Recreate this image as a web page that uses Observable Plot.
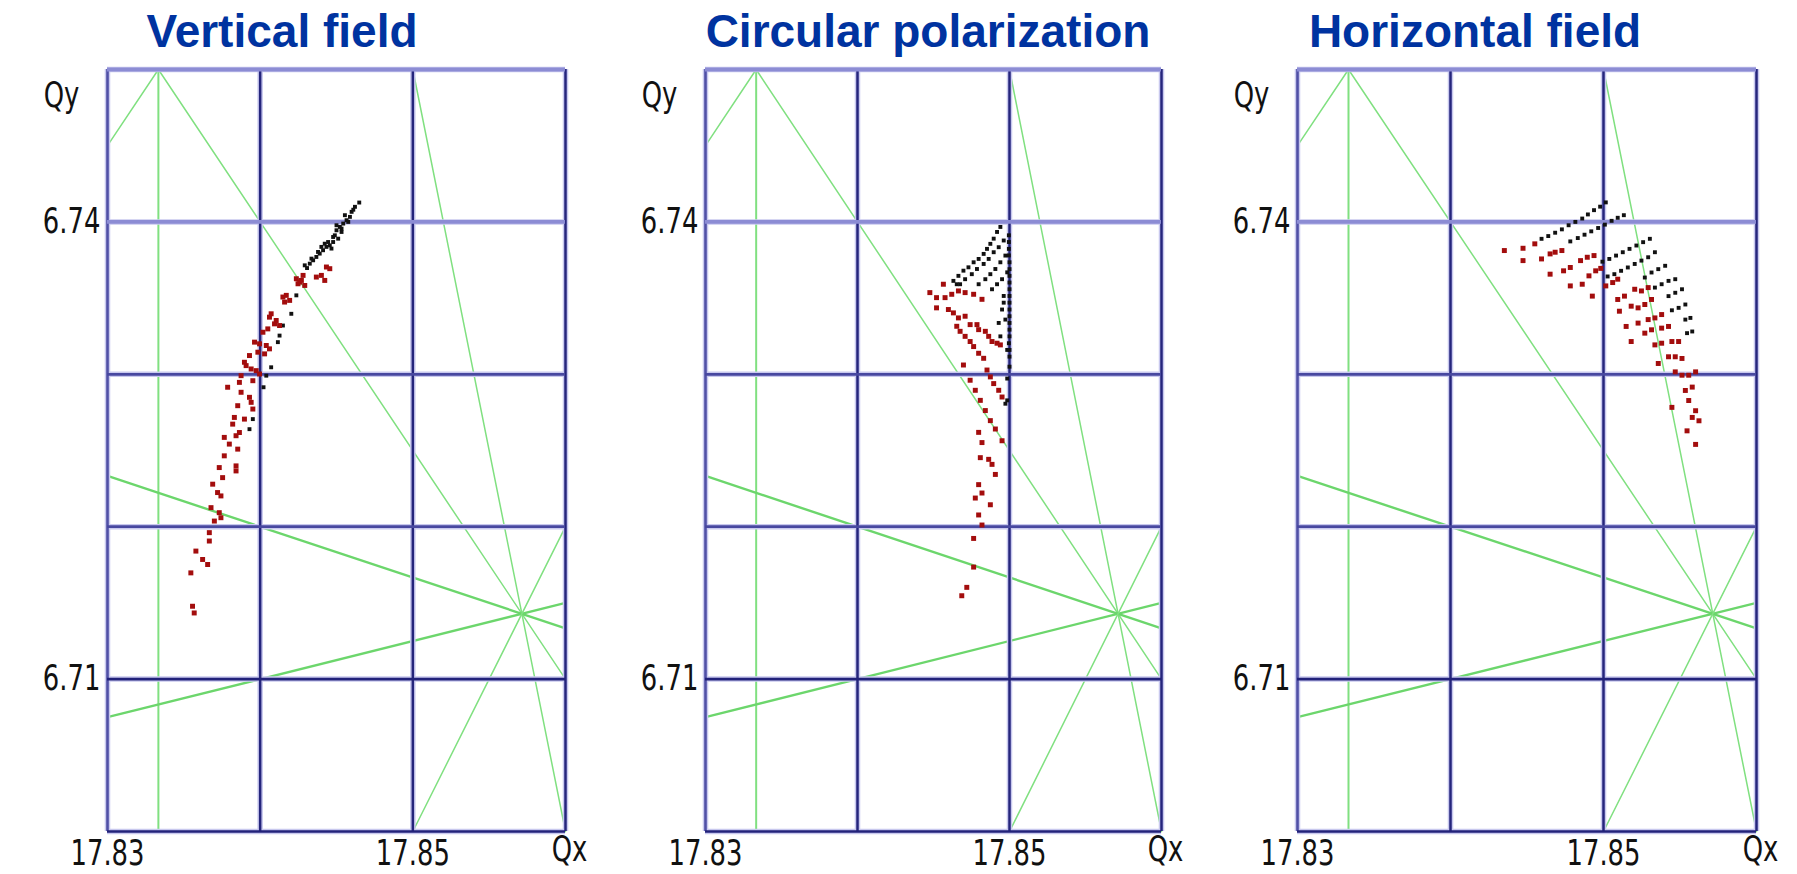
<!DOCTYPE html>
<html><head><meta charset="utf-8">
<script src="https://cdn.jsdelivr.net/npm/d3@7"></script>
<script src="https://cdn.jsdelivr.net/npm/@observablehq/plot@0.6"></script>
<style>
body{margin:0;background:#fff;}
#wrap{position:relative;width:1797px;height:874px;overflow:hidden;background:#fff;}
.title{position:absolute;top:8px;font:bold 46px "Liberation Sans",Arial,sans-serif;color:#0033a0;white-space:nowrap;transform:translateX(-50%);line-height:46px;}
.panel{position:absolute;top:60px;}
</style></head><body><div id="wrap"></div>
<script>
// ---- text / ticks ----
const panelTitles = ["Vertical field", "Circular polarization", "Horizontal field"];
const xTickLabels = [17.83, 17.85];
const yTickLabels = [6.71, 6.74];
const xGrid = [17.83, 17.84, 17.85, 17.86];
const yGrid = [6.70, 6.71, 6.72, 6.73, 6.74, 6.75];
const xDomain = [17.83, 17.86];
const yDomain = [6.70, 6.75];
const axisNames = ["Qx", "Qy"];

// ---- resonance lines  a*Qx + b*Qy = n ----
const resA = [6, 3, 3, 5, 1, -1, 2];
const resB = [0, -2, 2, 1, 3, 4, -1];
const resN = [107, 40, 67, 96, 38, 9, 29];

// ---- tune footprints [Qx, Qy] ----
const vBlack = [[17.84649,6.74127],[17.84621,6.74099],[17.84599,6.74066],[17.84588,6.74033],[17.84566,6.74011],[17.84544,6.73989],[17.84522,6.73967],[17.845,6.73945],[17.84489,6.73912],[17.84511,6.7389],[17.84478,6.73868],[17.84456,6.73846],[17.84434,6.73836],[17.84467,6.73825],[17.84412,6.73814],[17.8439,6.73792],[17.84368,6.7377],[17.84347,6.73748],[17.84325,6.73726],[17.84307,6.73697],[17.845,6.73978],[17.84533,6.73934],[17.84555,6.74044],[17.84445,6.73868],[17.84401,6.73836],[17.8461,6.7408],[17.84577,6.74],[17.84533,6.73956],[17.84478,6.73901],[17.84423,6.73857],[17.84379,6.73803],[17.84336,6.73759],[17.84292,6.73715],
[17.84237,6.73518],[17.84204,6.73397],[17.84149,6.7332],[17.84127,6.73254],[17.84116,6.73211],[17.84072,6.73046],[17.8404,6.72991],[17.84022,6.72915],[17.83952,6.72706],[17.8393,6.7264]];
const vRed = [[17.84434,6.73704],[17.84456,6.73693],[17.84401,6.73649],[17.84423,6.73616],[17.84368,6.73638],[17.84281,6.73649],[17.8427,6.73616],[17.84248,6.73594],[17.84292,6.73583],[17.84237,6.73627],[17.84259,6.73605],[17.84171,6.73518],[17.84149,6.73507],[17.84193,6.73485],[17.8416,6.73474],[17.84072,6.73397],[17.84061,6.73375],[17.84105,6.73353],[17.84094,6.73331],[17.84127,6.7332],[17.8405,6.73298],[17.84018,6.73276],[17.83963,6.73211],[17.83996,6.732],[17.8404,6.73189],[17.84061,6.73167],[17.83985,6.73145],[17.84029,6.73134],[17.8393,6.73123],[17.83897,6.73079],[17.83908,6.73057],[17.83941,6.73035],[17.83974,6.73024],[17.83996,6.73002],[17.83952,6.72958],[17.83875,6.72991],[17.83864,6.72947],[17.83787,6.72915],[17.83875,6.72882],[17.8393,6.72849],[17.83941,6.72816],[17.83853,6.72794],[17.83952,6.72772],[17.83831,6.72717],[17.83897,6.72706],[17.8382,6.72673],[17.83864,6.72618],[17.83842,6.72597],[17.83765,6.72586],[17.83798,6.72542],[17.83853,6.72509],[17.83765,6.72465],[17.83842,6.72399],[17.83842,6.72366],[17.83732,6.72388],[17.83754,6.72322],[17.83689,6.72279],[17.83721,6.72224],[17.83743,6.72202],[17.83678,6.72125],[17.83732,6.72092],[17.83743,6.72059],[17.837,6.72037],[17.83667,6.71961],[17.83667,6.71906],[17.83579,6.7184],[17.83623,6.71785],[17.83656,6.71752],[17.83546,6.71697],[17.83557,6.71478],[17.83568,6.71434]];

const cBlack = [[17.8494,6.73967],[17.84918,6.73934],[17.84896,6.7389],[17.84874,6.73856],[17.84852,6.73823],[17.8483,6.7379],[17.84797,6.73757],[17.84764,6.73735],[17.8473,6.73702],[17.84697,6.7368],[17.84664,6.73646],[17.84631,6.73613],[17.84653,6.73591],
[17.84962,6.73878],[17.84929,6.73834],[17.84896,6.73801],[17.84863,6.73757],[17.8483,6.73724],[17.84786,6.73691],[17.84752,6.73657],[17.84708,6.73624],[17.84675,6.73591],
[17.84973,6.73779],[17.8494,6.73735],[17.84907,6.73691],[17.84874,6.73657],[17.84841,6.73624],[17.84797,6.73591],
[17.84985,6.73669],[17.84951,6.73624],[17.84918,6.73591],[17.84885,6.73558],
[17.84996,6.73912],[17.84996,6.73868],[17.84996,6.73823],[17.84996,6.7378],[17.85,6.73735],[17.85,6.7369],[17.85,6.73646],[17.85,6.73602],[17.85,6.73558],[17.85,6.73514],[17.85,6.7347],[17.85,6.73425],[17.85,6.73381],[17.85,6.73337],[17.85,6.73293],[17.85,6.73249],[17.84996,6.73204],[17.85,6.7316],[17.85,6.73116],[17.85,6.7305],[17.84985,6.72972],[17.84985,6.72829],[17.84973,6.72807],
[17.84962,6.73514],[17.84951,6.73425],[17.84929,6.73337],[17.84962,6.7347],[17.84973,6.73359],[17.8494,6.73249],[17.84985,6.7316]];
const cRed = [[17.84565,6.73591],[17.84476,6.73536],[17.8452,6.73503],[17.84576,6.73503],[17.8462,6.73525],[17.84664,6.73547],[17.84708,6.73536],[17.84764,6.73525],[17.84819,6.73492],[17.8452,6.73436],[17.84598,6.73425],[17.84631,6.73403],[17.84664,6.7337],[17.84708,6.73381],[17.84741,6.73326],[17.84786,6.73326],[17.84797,6.73293],[17.84841,6.73282],[17.84863,6.73249],[17.84885,6.73215],[17.84918,6.73204],[17.8494,6.73193],[17.84653,6.73315],[17.84675,6.73282],[17.84708,6.73249],[17.84741,6.73215],[17.84764,6.73182],[17.84797,6.73138],[17.8483,6.73105],[17.84852,6.73028],[17.84874,6.72983],[17.84896,6.72939],[17.84929,6.72895],[17.84951,6.72851],[17.84697,6.73061],[17.84741,6.72961],[17.84775,6.72895],[17.84808,6.72829],[17.84841,6.72762],[17.84874,6.72696],[17.84907,6.72641],[17.84951,6.72564],[17.84797,6.72619],[17.84819,6.72552],[17.84808,6.72453],[17.84863,6.72442],[17.84885,6.72409],[17.84907,6.72343],[17.84797,6.72276],[17.84819,6.72221],[17.84775,6.72188],[17.84874,6.72144],[17.84797,6.72077],[17.84819,6.72011],[17.84764,6.71923],[17.84764,6.71735],[17.84719,6.71602],[17.84686,6.71547]];

const hBlack = [[17.85015,6.74128],[17.84978,6.741],[17.84938,6.74077],[17.84898,6.74049],[17.84861,6.74022],[17.84816,6.74],[17.84772,6.73978],[17.84728,6.73951],[17.84684,6.73929],[17.84639,6.73907],[17.84595,6.73889],
[17.85133,6.74044],[17.85093,6.74027],[17.85053,6.74007],[17.85009,6.73982],[17.84965,6.7396],[17.8492,6.73938],[17.84876,6.73916],[17.84832,6.73894],[17.84783,6.73872],
[17.85303,6.73889],[17.85259,6.73867],[17.85215,6.73845],[17.8517,6.73823],[17.85126,6.73801],[17.85082,6.73779],[17.85038,6.73757],[17.84993,6.73739],
[17.85336,6.73801],[17.85292,6.73768],[17.85248,6.73746],[17.85204,6.73724],[17.85159,6.73701],[17.85115,6.73679],[17.85071,6.73657],[17.85027,6.73642],
[17.85403,6.73712],[17.85358,6.7369],[17.85314,6.73668],[17.8527,6.73635],
[17.85469,6.73624],[17.85425,6.73613],[17.8538,6.73591],[17.85336,6.73569],
[17.85513,6.73558],[17.85469,6.73535],[17.85425,6.73513],
[17.85535,6.73458],[17.85491,6.73436],[17.85447,6.7342],
[17.85568,6.7337],[17.85535,6.73359],
[17.8558,6.73281],[17.85546,6.7327]];
const hRed = [[17.84551,6.73856],[17.84474,6.73827],[17.84352,6.73812],[17.84728,6.73812],[17.84684,6.73801],[17.84651,6.7379],[17.84595,6.73757],[17.84474,6.73746],[17.84938,6.73779],[17.84894,6.73768],[17.8485,6.73746],[17.84783,6.73701],[17.84739,6.73679],[17.84651,6.73657],[17.84982,6.73695],[17.84949,6.73679],[17.84905,6.73646],[17.84861,6.73591],[17.84783,6.7358],[17.85093,6.73624],[17.8506,6.73602],[17.85015,6.7358],[17.84927,6.73513],[17.85292,6.73569],[17.85248,6.73547],[17.85204,6.73558],[17.85137,6.73513],[17.85093,6.73491],[17.85314,6.73491],[17.8527,6.73458],[17.85226,6.73436],[17.85181,6.73447],[17.85104,6.73414],[17.8538,6.73392],[17.85336,6.7337],[17.85292,6.73359],[17.85226,6.73336],[17.85148,6.73314],[17.85425,6.73314],[17.8538,6.73303],[17.85314,6.73292],[17.8527,6.7327],[17.85181,6.73215],[17.85491,6.73215],[17.85447,6.73215],[17.8538,6.73204],[17.85336,6.73193],[17.85513,6.73104],[17.85469,6.73115],[17.85425,6.73115],[17.85358,6.73071],[17.85602,6.73016],[17.85557,6.72994],[17.85513,6.72994],[17.85469,6.73016],[17.8558,6.72916],[17.85535,6.72894],[17.85447,6.72783],[17.85557,6.72828],[17.85602,6.72761],[17.8558,6.72717],[17.85624,6.72695],[17.85546,6.72629],[17.85602,6.7254]];

const panelBlack = [vBlack, cBlack, hBlack];
const panelRed = [vRed, cRed, hRed];

// ---- layout (style) ----
const layout = [
  {left: 0, width: 600, ml: 107, mr: 35, titleX: 282},
  {left: 600, width: 597, ml: 105, mr: 36, titleX: 928},
  {left: 1197, width: 600, ml: 100, mr: 41, titleX: 1475}
];

function segment(a, b, n) {
  const [x0, x1] = xDomain, [y0, y1] = yDomain, eps = 1e-9, pts = [];
  if (b !== 0) for (const x of [x0, x1]) { const y = (n - a * x) / b; if (y >= y0 - eps && y <= y1 + eps) pts.push([x, y]); }
  if (a !== 0) for (const y of [y0, y1]) { const x = (n - b * y) / a; if (x >= x0 - eps && x <= x1 + eps) pts.push([x, y]); }
  const out = [];
  for (const p of pts) if (!out.some(q => Math.abs(q[0] - p[0]) < 1e-7 && Math.abs(q[1] - p[1]) < 1e-7)) out.push(p);
  return out.slice(0, 2);
}

// condense the axis font horizontally (the original uses a narrow bitmap font)
function condense(svg, sx) {
  svg.querySelectorAll("text").forEach(t => {
    const xa = t.getAttribute("x");
    const single = xa && !/\s/.test(xa.trim());
    const x = single ? +xa : 0;
    if (single) t.removeAttribute("x");
    const tr = t.getAttribute("transform") || "";
    t.setAttribute("transform", `${tr} translate(${x},0) scale(${sx},1)`);
  });
}

const wrap = document.getElementById("wrap");
const fmt = d => d.toFixed(2);

layout.forEach((L, i) => {
  const t = document.createElement("div");
  t.className = "title"; t.style.left = L.titleX + "px"; t.textContent = panelTitles[i];
  wrap.appendChild(t);

  const marks = [];
  resA.forEach((a, k) => {
    const thick = k === 4 || k === 5;
    marks.push(Plot.line(segment(a, resB[k], resN[k]), {
      x: d => d[0], y: d => d[1],
      stroke: thick ? "#6cd66c" : "#80e080",
      strokeWidth: thick ? 2.4 : (k === 0 ? 2 : 1.5)
    }));
  });
  marks.push(Plot.ruleX(xGrid, {stroke: "#c8c8ee", strokeWidth: 5.5}));
  marks.push(Plot.ruleY(yGrid, {stroke: "#c8c8ee", strokeWidth: 5.5}));
  marks.push(Plot.ruleX(xGrid.filter(v => v < 17.835), {stroke: "#5050a6", strokeWidth: 2.6}));
  marks.push(Plot.ruleX(xGrid.filter(v => v > 17.835), {stroke: "#25257c", strokeWidth: 2.5}));
  marks.push(Plot.ruleY(yGrid.filter(v => v > 6.735), {stroke: "#8c8cd4", strokeWidth: 3.8}));
  marks.push(Plot.ruleY(yGrid.filter(v => v > 6.715 && v < 6.735), {stroke: "#4848a0", strokeWidth: 2.7}));
  marks.push(Plot.ruleY(yGrid.filter(v => v < 6.715), {stroke: "#22227a", strokeWidth: 2.6}));
  marks.push(Plot.dot(panelBlack[i], {x: d => d[0], y: d => d[1], symbol: "square", r: 2.2, fill: "#111", stroke: "none"}));
  marks.push(Plot.dot(panelRed[i], {x: d => d[0], y: d => d[1], symbol: "square", r: 2.8, fill: "#a30d0d", stroke: "none"}));
  marks.push(Plot.text([axisNames[1]], {frameAnchor: "top-left", dx: -46, dy: 13, textAnchor: "middle", fill: "#111"}));
  marks.push(Plot.text([axisNames[0]], {frameAnchor: "bottom-right", dx: 4, dy: 29, textAnchor: "middle", fill: "#111"}));

  const svg = Plot.plot({
    width: L.width, height: 814,
    marginLeft: L.ml, marginRight: L.mr, marginTop: 9, marginBottom: 43,
    style: {fontFamily: '"DejaVu Sans", sans-serif', fontSize: "35px", color: "#111", background: "#fff", overflow: "visible"},
    x: {domain: xDomain, ticks: xTickLabels, tickSize: 0, tickPadding: 9, tickFormat: fmt, label: null},
    y: {domain: yDomain, ticks: yTickLabels, tickSize: 0, tickPadding: 7, tickFormat: fmt, label: null},
    marks
  });
  condense(svg, 0.74);
  const holder = document.createElement("div");
  holder.className = "panel"; holder.style.left = L.left + "px";
  holder.appendChild(svg);
  wrap.appendChild(holder);
});
</script>
</body></html>
